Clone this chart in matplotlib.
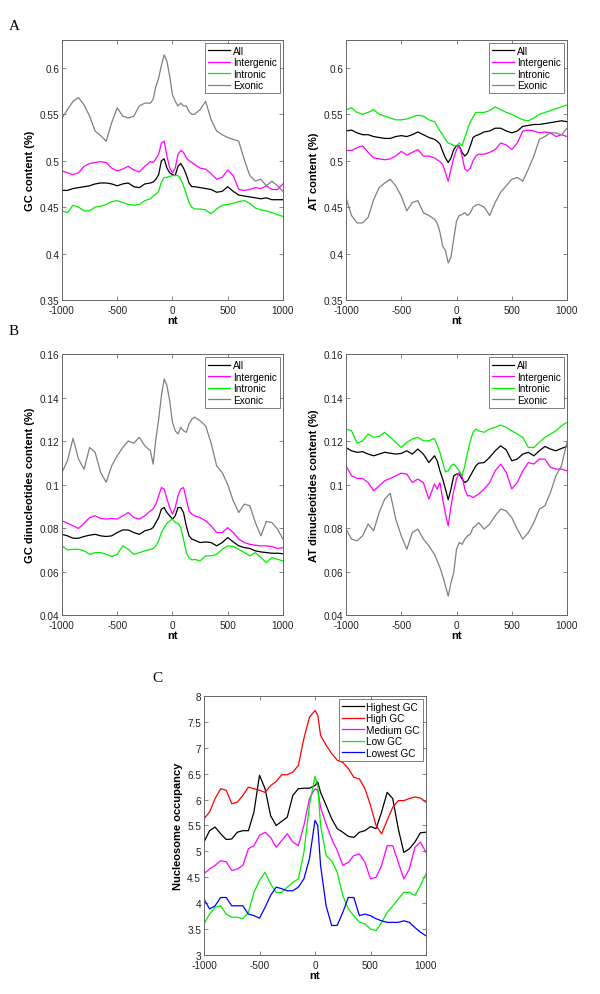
import matplotlib
matplotlib.use('Agg')
import matplotlib.pyplot as plt
import numpy as np

plt.rcParams['font.family'] = ['Liberation Sans', 'DejaVu Sans']
plt.rcParams['axes.unicode_minus'] = False

# x positions (nt) for panels A and B
x_ab = [-1000, -950, -900, -850, -800, -750, -700, -650, -600, -550, -500, -450, -400,
        -350, -300, -250, -200, -175, -150, -125, -100, -75, -50, -25, 0, 25, 50, 75,
        100, 125, 150, 175, 200, 250, 300, 350, 400, 450, 500, 550, 600, 650, 700, 750,
        800, 850, 900, 950, 1000]

# A left: GC content
gc_all = [0.468, 0.468, 0.470, 0.471, 0.472, 0.473, 0.475, 0.476, 0.476, 0.475, 0.473, 0.475, 0.476,
          0.472, 0.471, 0.475, 0.476, 0.477, 0.480, 0.485, 0.500, 0.502, 0.492, 0.487, 0.485, 0.484, 0.494, 0.497,
          0.492, 0.485, 0.476, 0.472, 0.472, 0.471, 0.470, 0.469, 0.466, 0.467, 0.472, 0.467, 0.463, 0.462, 0.461, 0.460,
          0.459, 0.460, 0.458, 0.458, 0.458]
gc_intergenic = [0.489, 0.487, 0.485, 0.487, 0.494, 0.497, 0.498, 0.499, 0.498, 0.492, 0.489, 0.491, 0.494,
                 0.490, 0.488, 0.494, 0.499, 0.498, 0.502, 0.507, 0.519, 0.521, 0.505, 0.492, 0.487, 0.492, 0.507, 0.511,
                 0.509, 0.503, 0.500, 0.498, 0.496, 0.492, 0.491, 0.486, 0.480, 0.482, 0.490, 0.484, 0.469, 0.468, 0.469, 0.471,
                 0.470, 0.473, 0.469, 0.469, 0.475]
gc_intronic = [0.446, 0.444, 0.452, 0.450, 0.446, 0.446, 0.450, 0.451, 0.453, 0.456, 0.457, 0.455, 0.453,
               0.452, 0.453, 0.457, 0.459, 0.462, 0.464, 0.467, 0.477, 0.482, 0.482, 0.483, 0.484, 0.484, 0.484, 0.480,
               0.473, 0.464, 0.455, 0.450, 0.448, 0.448, 0.447, 0.443, 0.448, 0.452, 0.453, 0.454, 0.456, 0.457, 0.454, 0.449,
               0.447, 0.446, 0.444, 0.442, 0.440]
gc_exonic = [0.546, 0.555, 0.564, 0.568, 0.560, 0.548, 0.532, 0.527, 0.521, 0.541, 0.557, 0.548, 0.546,
             0.548, 0.559, 0.562, 0.562, 0.566, 0.580, 0.589, 0.603, 0.614, 0.607, 0.591, 0.571, 0.564, 0.559, 0.562,
             0.559, 0.559, 0.553, 0.550, 0.550, 0.555, 0.564, 0.544, 0.532, 0.528, 0.525, 0.523, 0.521, 0.501, 0.484, 0.478,
             0.480, 0.473, 0.478, 0.473, 0.467]

# A right: AT content
at_all = [0.532, 0.533, 0.530, 0.528, 0.528, 0.526, 0.525, 0.524, 0.524, 0.526, 0.527, 0.526, 0.528,
          0.531, 0.528, 0.525, 0.523, 0.521, 0.518, 0.510, 0.503, 0.498, 0.503, 0.512, 0.516, 0.516, 0.509, 0.505,
          0.508, 0.516, 0.525, 0.527, 0.528, 0.531, 0.532, 0.535, 0.535, 0.532, 0.530, 0.532, 0.537, 0.538, 0.539, 0.539,
          0.540, 0.541, 0.542, 0.543, 0.542]
at_intergenic = [0.511, 0.511, 0.514, 0.516, 0.509, 0.503, 0.502, 0.501, 0.502, 0.505, 0.510, 0.506, 0.509,
                 0.512, 0.505, 0.505, 0.503, 0.501, 0.499, 0.496, 0.487, 0.478, 0.491, 0.503, 0.512, 0.516, 0.505, 0.491,
                 0.489, 0.492, 0.500, 0.505, 0.507, 0.507, 0.509, 0.512, 0.519, 0.517, 0.512, 0.519, 0.532, 0.533, 0.532, 0.530,
                 0.531, 0.530, 0.526, 0.528, 0.526]
at_intronic = [0.555, 0.557, 0.552, 0.550, 0.552, 0.555, 0.550, 0.548, 0.546, 0.544, 0.544, 0.545, 0.547,
               0.549, 0.548, 0.544, 0.542, 0.537, 0.532, 0.528, 0.523, 0.519, 0.518, 0.516, 0.516, 0.519, 0.516, 0.525,
               0.534, 0.542, 0.547, 0.552, 0.552, 0.552, 0.554, 0.558, 0.555, 0.552, 0.550, 0.547, 0.544, 0.543, 0.546, 0.550,
               0.552, 0.554, 0.556, 0.558, 0.560]
at_exonic = [0.460, 0.441, 0.433, 0.433, 0.439, 0.458, 0.471, 0.476, 0.480, 0.473, 0.462, 0.446, 0.455,
             0.457, 0.444, 0.441, 0.437, 0.433, 0.423, 0.408, 0.403, 0.390, 0.396, 0.416, 0.435, 0.441, 0.442, 0.444,
             0.441, 0.444, 0.450, 0.452, 0.453, 0.450, 0.441, 0.455, 0.466, 0.473, 0.480, 0.482, 0.478, 0.491, 0.505, 0.523,
             0.526, 0.530, 0.530, 0.528, 0.535]

# B left: GC dinucleotides content
gcd_all = [0.0771, 0.0764, 0.0753, 0.0753, 0.0761, 0.0767, 0.0771, 0.0764, 0.0761, 0.0764, 0.0779, 0.0791, 0.0791,
           0.0779, 0.0771, 0.0787, 0.0794, 0.0802, 0.0825, 0.0848, 0.0887, 0.0894, 0.0871, 0.0856, 0.0841, 0.0856, 0.0894, 0.0894,
           0.0871, 0.0810, 0.0764, 0.0749, 0.0744, 0.0733, 0.0736, 0.0733, 0.0718, 0.0733, 0.0756, 0.0736, 0.0718, 0.0710, 0.0706, 0.0695,
           0.0690, 0.0687, 0.0684, 0.0684, 0.0682]
gcd_intergenic = [0.0833, 0.0822, 0.0810, 0.0798, 0.0822, 0.0848, 0.0856, 0.0844, 0.0841, 0.0844, 0.0841, 0.0856, 0.0871,
                  0.0848, 0.0841, 0.0856, 0.0879, 0.0887, 0.0910, 0.0948, 0.0986, 0.0979, 0.0933, 0.0894, 0.0864, 0.0894, 0.0948, 0.0979,
                  0.0986, 0.0933, 0.0879, 0.0864, 0.0856, 0.0848, 0.0833, 0.0810, 0.0779, 0.0779, 0.0802, 0.0779, 0.0749, 0.0733, 0.0725, 0.0721,
                  0.0718, 0.0718, 0.0715, 0.0706, 0.0710]
gcd_intronic = [0.0718, 0.0699, 0.0702, 0.0702, 0.0695, 0.0679, 0.0687, 0.0687, 0.0679, 0.0669, 0.0679, 0.0718, 0.0702,
                0.0679, 0.0687, 0.0695, 0.0702, 0.0706, 0.0718, 0.0741, 0.0779, 0.0802, 0.0822, 0.0833, 0.0841, 0.0825, 0.0822, 0.0802,
                0.0749, 0.0687, 0.0664, 0.0653, 0.0656, 0.0649, 0.0672, 0.0672, 0.0679, 0.0702, 0.0718, 0.0715, 0.0702, 0.0687, 0.0672, 0.0687,
                0.0664, 0.0641, 0.0664, 0.0656, 0.0649]
gcd_exonic = [0.1055, 0.1110, 0.1212, 0.1117, 0.1070, 0.1170, 0.1148, 0.1055, 0.1010, 0.1086, 0.1132, 0.1170, 0.1200,
              0.1190, 0.1217, 0.1178, 0.1155, 0.1094, 0.1209, 0.1300, 0.1408, 0.1485, 0.1455, 0.1385, 0.1286, 0.1247, 0.1232, 0.1263,
              0.1247, 0.1240, 0.1278, 0.1300, 0.1310, 0.1293, 0.1270, 0.1190, 0.1086, 0.1055, 0.1000, 0.0925, 0.0871, 0.0910, 0.0902, 0.0825,
              0.0764, 0.0830, 0.0825, 0.0795, 0.0749]

# B right: AT dinucleotides content
atd_all = [0.1170, 0.1155, 0.1148, 0.1151, 0.1140, 0.1132, 0.1140, 0.1148, 0.1144, 0.1140, 0.1143, 0.1155, 0.1140,
           0.1163, 0.1140, 0.1101, 0.1132, 0.1109, 0.1063, 0.1025, 0.0979, 0.0930, 0.0979, 0.1040, 0.1048, 0.1048, 0.1025, 0.1009,
           0.1017, 0.1040, 0.1063, 0.1086, 0.1098, 0.1101, 0.1125, 0.1155, 0.1178, 0.1159, 0.1109, 0.1117, 0.1140, 0.1148, 0.1132, 0.1155,
           0.1175, 0.1163, 0.1155, 0.1166, 0.1175]
atd_intergenic = [0.1086, 0.1040, 0.1028, 0.1028, 0.1009, 0.0971, 0.0994, 0.1017, 0.1028, 0.1040, 0.1052, 0.1048, 0.1009,
                  0.1025, 0.1009, 0.0933, 0.1002, 0.0979, 0.1009, 0.0933, 0.0864, 0.0810, 0.0902, 0.0971, 0.1025, 0.1056, 0.1040, 0.0979,
                  0.0948, 0.0948, 0.0940, 0.0948, 0.0956, 0.0979, 0.1009, 0.1063, 0.1094, 0.1056, 0.0980, 0.1009, 0.1063, 0.1101, 0.1094, 0.1117,
                  0.1117, 0.1079, 0.1071, 0.1071, 0.1063]
atd_intronic = [0.1255, 0.1247, 0.1190, 0.1201, 0.1232, 0.1217, 0.1221, 0.1240, 0.1217, 0.1194, 0.1170, 0.1194, 0.1209,
                0.1217, 0.1201, 0.1201, 0.1212, 0.1181, 0.1148, 0.1101, 0.1058, 0.1063, 0.1086, 0.1094, 0.1079, 0.1063, 0.1040, 0.1086,
                0.1148, 0.1201, 0.1240, 0.1255, 0.1247, 0.1240, 0.1255, 0.1263, 0.1273, 0.1263, 0.1247, 0.1232, 0.1217, 0.1170, 0.1170, 0.1194,
                0.1217, 0.1232, 0.1247, 0.1270, 0.1286]
atd_exonic = [0.0795, 0.0749, 0.0741, 0.0764, 0.0818, 0.0787, 0.0871, 0.0933, 0.0960, 0.0841, 0.0764, 0.0702, 0.0779,
              0.0795, 0.0749, 0.0718, 0.0679, 0.0649, 0.0618, 0.0580, 0.0534, 0.0487, 0.0549, 0.0595, 0.0702, 0.0733, 0.0725, 0.0749,
              0.0764, 0.0771, 0.0802, 0.0810, 0.0825, 0.0795, 0.0818, 0.0856, 0.0887, 0.0879, 0.0848, 0.0795, 0.0749, 0.0779, 0.0825, 0.0887,
              0.0902, 0.0963, 0.1040, 0.1086, 0.1194]

# C: nucleosome occupancy
x_c = [-1000, -950, -900, -850, -800, -750, -700, -650, -600, -550, -500, -450, -400, -350, -300,
       -250, -200, -150, -100, -50, 0, 25, 50, 100, 150, 200, 250, 300, 350, 400, 450, 500, 550,
       600, 650, 700, 750, 800, 850, 900, 950, 1000]
occ_highest = [5.18, 5.40, 5.47, 5.34, 5.23, 5.24, 5.37, 5.40, 5.40, 5.76, 6.47, 6.21, 5.69, 5.50, 5.58,
               5.66, 6.08, 6.21, 6.22, 6.22, 6.27, 6.34, 6.14, 5.89, 5.63, 5.44, 5.37, 5.29, 5.27, 5.37, 5.40,
               5.48, 5.44, 5.76, 6.14, 6.02, 5.44, 4.98, 5.05, 5.18, 5.36, 5.37]
occ_high = [5.63, 5.76, 6.02, 6.21, 6.18, 5.92, 5.95, 6.08, 6.24, 6.21, 6.18, 6.14, 6.27, 6.35, 6.48,
            6.48, 6.53, 6.66, 7.18, 7.59, 7.72, 7.63, 7.24, 7.05, 6.89, 6.76, 6.72, 6.60, 6.43, 6.40, 6.21,
            5.89, 5.50, 5.34, 5.60, 5.85, 5.98, 5.98, 6.02, 6.05, 6.03, 5.95]
occ_medium = [4.57, 4.66, 4.73, 4.82, 4.80, 4.63, 4.66, 4.73, 5.05, 5.11, 5.31, 5.37, 5.27, 5.08, 5.21,
              5.34, 5.18, 5.11, 5.50, 6.02, 6.21, 6.18, 5.85, 5.53, 5.24, 5.02, 4.73, 4.79, 4.92, 4.95, 4.79,
              4.47, 4.50, 4.73, 5.11, 5.11, 4.79, 4.47, 4.66, 5.08, 5.18, 4.98]
occ_low = [3.60, 3.79, 3.92, 3.95, 3.79, 3.73, 3.73, 3.70, 3.82, 4.21, 4.44, 4.60, 4.37, 4.21, 4.21,
           4.31, 4.40, 4.47, 4.98, 5.89, 6.45, 6.27, 5.50, 4.92, 4.82, 4.60, 4.15, 3.89, 3.76, 3.63, 3.60,
           3.50, 3.47, 3.63, 3.82, 3.95, 4.08, 4.21, 4.21, 4.15, 4.34, 4.57]
occ_lowest = [4.08, 3.89, 3.95, 4.11, 4.11, 3.95, 3.95, 3.95, 3.79, 3.76, 3.71, 3.92, 4.15, 4.31, 4.28,
              4.24, 4.24, 4.31, 4.47, 4.86, 5.60, 5.50, 4.73, 3.95, 3.57, 3.57, 3.82, 4.11, 4.11, 3.76, 3.79,
              3.76, 3.70, 3.66, 3.63, 3.63, 3.63, 3.66, 3.63, 3.53, 3.44, 3.37]

region_labels = ['All', 'Intergenic', 'Intronic', 'Exonic']
region_colors = ['black', '#ff00ff', '#00ee00', '#808080']
gc_labels = ['Highest GC', 'High GC', 'Medium GC', 'Low GC', 'Lowest GC']
gc_colors = ['black', '#ff0000', '#ff00ff', '#00ee00', '#0000ff']


def tick_fmt(v):
    return ('%g' % round(v, 4))


def draw_panel(ax, x, series, labels, colors, ylim, yticks, ylabel):
    for ys, lab, col in zip(series, labels, colors):
        ax.plot(x, ys, color=col, lw=0.9, label=lab)
    ax.set_xlim(-1000, 1000)
    ax.set_ylim(*ylim)
    ax.set_xticks([-1000, -500, 0, 500, 1000])
    ax.set_yticks(yticks)
    ax.set_yticklabels([tick_fmt(v) for v in yticks])
    ax.tick_params(direction='in', top=True, right=True, labelsize=7.2, length=3,
                   width=0.5, colors='#555555', labelcolor='#222222')
    ax.tick_params(axis='x', pad=3.5)
    ax.tick_params(axis='y', pad=2)
    for s in ax.spines.values():
        s.set_linewidth(0.7)
        s.set_color('#666666')
    ax.set_xlabel('nt', fontsize=8, fontweight='bold', labelpad=0)
    ax.set_ylabel(ylabel, fontsize=8, fontweight='bold', labelpad=3)
    leg = ax.legend(loc='upper right', fontsize=7.2, frameon=True, fancybox=False,
                    handlelength=2.2, handletextpad=0.3, labelspacing=0.15,
                    borderpad=0.3, borderaxespad=0.3)
    leg.get_frame().set_edgecolor('#444444')
    leg.get_frame().set_linewidth(0.6)


fig = plt.figure(figsize=(6, 9.95), dpi=100)

ax1 = fig.add_axes([0.1033, 0.6975, 0.3683, 0.2613])
draw_panel(ax1, x_ab, [gc_all, gc_intergenic, gc_intronic, gc_exonic], region_labels, region_colors,
           (0.35, 0.63), [0.35, 0.4, 0.45, 0.5, 0.55, 0.6], 'GC content (%)')
ax2 = fig.add_axes([0.5767, 0.6975, 0.3683, 0.2613])
draw_panel(ax2, x_ab, [at_all, at_intergenic, at_intronic, at_exonic], region_labels, region_colors,
           (0.35, 0.63), [0.35, 0.4, 0.45, 0.5, 0.55, 0.6], 'AT content (%)')
ax3 = fig.add_axes([0.1033, 0.3809, 0.3683, 0.2623])
draw_panel(ax3, x_ab, [gcd_all, gcd_intergenic, gcd_intronic, gcd_exonic], region_labels, region_colors,
           (0.04, 0.16), [0.04, 0.06, 0.08, 0.1, 0.12, 0.14, 0.16], 'GC dinucleotides content (%)')
ax4 = fig.add_axes([0.5767, 0.3809, 0.3683, 0.2623])
draw_panel(ax4, x_ab, [atd_all, atd_intergenic, atd_intronic, atd_exonic], region_labels, region_colors,
           (0.04, 0.16), [0.04, 0.06, 0.08, 0.1, 0.12, 0.14, 0.16], 'AT dinucleotides content (%)')
ax5 = fig.add_axes([0.34, 0.0392, 0.37, 0.2603])
draw_panel(ax5, x_c, [occ_highest, occ_high, occ_medium, occ_low, occ_lowest], gc_labels, gc_colors,
           (3, 8), [3, 3.5, 4, 4.5, 5, 5.5, 6, 6.5, 7, 7.5, 8], 'Nucleosome occupancy')

for lab, x, y in [('A', 14, 27), ('B', 14, 332), ('C', 157, 678)]:
    fig.text(x / 600, 1 - y / 995, lab, fontsize=11, family='Liberation Serif',
             ha='center', va='center')

fig.savefig('out.png', dpi=100)
